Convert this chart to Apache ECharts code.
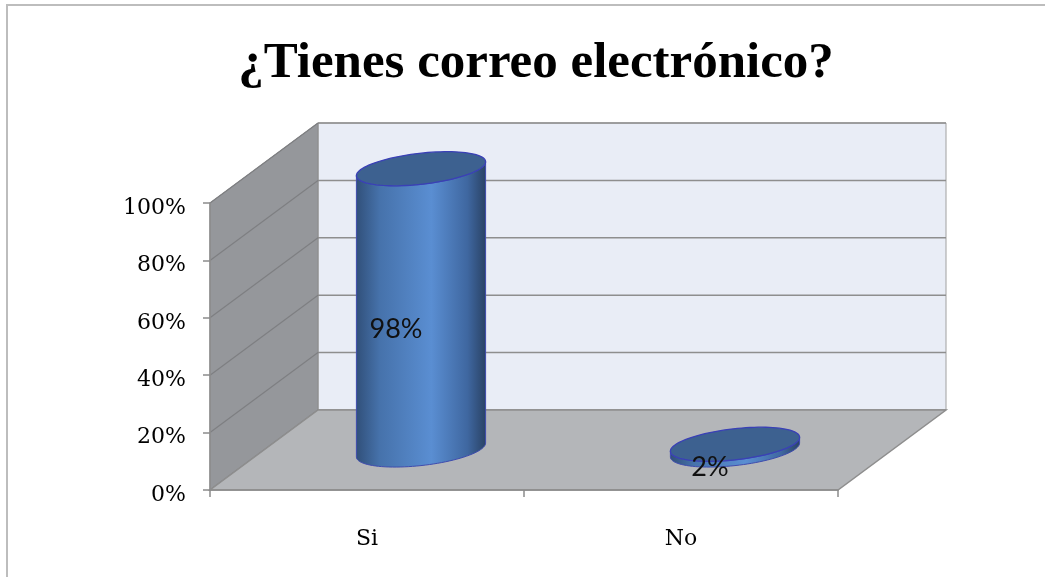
<!DOCTYPE html>
<html>
<head>
<meta charset="utf-8">
<title>¿Tienes correo electrónico?</title>
<script src="https://cdn.jsdelivr.net/npm/echarts@6/dist/echarts.min.js"></script>
<style>
  html, body { margin: 0; padding: 0; background: #ffffff; }
  #chart { width: 1045px; height: 577px; }
</style>
</head>
<body>
<div id="chart"></div>
<script>
// Survey answers and their shares (percent)
const categories = ['Si', 'No'];
const shares = [98, 2];
const yTicks = [0, 20, 40, 60, 80, 100];

// Pseudo-3D depth of the plot box, in pixels
const DEPTH_X = 108;
const DEPTH_Y = -80;

const chart = echarts.init(document.getElementById('chart'));

// Back wall, side wall and floor of the 3D box, with gridlines
function renderWalls(params, api) {
  const cs = params.coordSys;
  const x0 = cs.x, y0 = cs.y, w = cs.width, h = cs.height;
  const children = [];
  children.push({
    type: 'rect',
    shape: { x: x0 + DEPTH_X, y: y0 + DEPTH_Y, width: w, height: h },
    style: { fill: '#e9edf6', stroke: '#a0a0a0', lineWidth: 1 }
  });
  yTicks.forEach(function (v) {
    const y = api.coord([0, v])[1];
    children.push({
      type: 'line',
      shape: { x1: x0 + DEPTH_X, y1: y + DEPTH_Y, x2: x0 + DEPTH_X + w, y2: y + DEPTH_Y },
      style: { stroke: '#8e8e8e', lineWidth: 1.5 }
    });
  });
  children.push({
    type: 'polygon',
    shape: { points: [[x0, y0], [x0 + DEPTH_X, y0 + DEPTH_Y], [x0 + DEPTH_X, y0 + h + DEPTH_Y], [x0, y0 + h]] },
    style: { fill: '#95979b', stroke: '#8a8a8a', lineWidth: 1 }
  });
  yTicks.forEach(function (v) {
    const y = api.coord([0, v])[1];
    children.push({
      type: 'line',
      shape: { x1: x0, y1: y, x2: x0 + DEPTH_X, y2: y + DEPTH_Y },
      style: { stroke: '#7e7f82', lineWidth: 1.2 }
    });
  });
  children.push({
    type: 'polygon',
    shape: { points: [[x0, y0 + h], [x0 + w, y0 + h], [x0 + w + DEPTH_X, y0 + h + DEPTH_Y], [x0 + DEPTH_X, y0 + h + DEPTH_Y]] },
    style: { fill: '#b4b6b9', stroke: '#8e8e8e', lineWidth: 1.5 }
  });
  return { type: 'group', children: children };
}

// Tilted ellipse point
function ellipsePt(cx, cy, rx, ry, th, t) {
  return [
    cx + rx * Math.cos(t) * Math.cos(th) - ry * Math.sin(t) * Math.sin(th),
    cy + rx * Math.cos(t) * Math.sin(th) + ry * Math.sin(t) * Math.cos(th)
  ];
}

// One cylinder per category, standing in the middle of the box depth
function renderCylinder(params, api) {
  const idx = api.value(0);
  const val = api.value(1);
  const base = api.coord([idx, 0]);
  const top = api.coord([idx, val]);
  const band = api.size([1, 0])[0];
  const cx = base[0] + DEPTH_X / 2;
  const cyB = base[1] + DEPTH_Y / 2;
  const cyT = top[1] + DEPTH_Y / 2;
  const rx = band * 0.207;
  const ry = 15.5;
  const th = -6.5 * Math.PI / 180;
  const t0 = Math.atan2(-ry * Math.sin(th), rx * Math.cos(th));
  const N = 48;
  const body = [];
  for (let i = 0; i <= N; i++) body.push(ellipsePt(cx, cyB, rx, ry, th, t0 + Math.PI * i / N));
  for (let i = 0; i <= N; i++) body.push(ellipsePt(cx, cyT, rx, ry, th, t0 + Math.PI - Math.PI * i / N));
  const cap = [];
  for (let i = 0; i < 96; i++) cap.push(ellipsePt(cx, cyT, rx, ry, th, 2 * Math.PI * i / 96));
  const xl = ellipsePt(cx, cyB, rx, ry, th, t0 + Math.PI)[0];
  const xr = ellipsePt(cx, cyB, rx, ry, th, t0)[0];
  const grad = new echarts.graphic.LinearGradient(xl, 0, xr, 0, [
    { offset: 0, color: '#31507a' },
    { offset: 0.18, color: '#4672ab' },
    { offset: 0.58, color: '#5a8ed2' },
    { offset: 0.86, color: '#3f67a0' },
    { offset: 1, color: '#2a4366' }
  ], true);
  return {
    type: 'group',
    children: [
      { type: 'polygon', shape: { points: body }, style: { fill: grad, stroke: '#3f4cae', lineWidth: 1 } },
      { type: 'polygon', shape: { points: cap }, style: { fill: '#3d6190', stroke: '#3a40b6', lineWidth: 1.3 } },
      {
        type: 'text',
        x: base[0] + DEPTH_X / 4 + 2,
        y: (base[1] + top[1]) / 2 + DEPTH_Y / 4,
        style: {
          text: val + '%', fill: '#111111', font: '27px Lato',
          align: 'center', verticalAlign: 'middle'
        }
      }
    ]
  };
}

chart.setOption({
  backgroundColor: '#ffffff',
  animation: false,
  title: {
    text: '¿Tienes correo electrónico?',
    left: 531,
    textAlign: 'center',
    top: 33,
    textStyle: { fontFamily: 'Liberation Serif', fontWeight: 'bold', fontSize: 51, color: '#000000' }
  },
  graphic: [{
    type: 'rect',
    shape: { x: 7, y: 5, width: 1200, height: 700 },
    style: { fill: 'none', stroke: '#bdbdbd', lineWidth: 2 },
    silent: true
  }],
  grid: { left: 210, top: 203, width: 628, height: 287, containLabel: false },
  xAxis: {
    type: 'category',
    data: categories,
    z: 10,
    axisLine: { lineStyle: { color: '#8c8c8c', width: 1.5 } },
    axisTick: { show: true, length: 7, alignWithLabel: false, lineStyle: { color: '#8c8c8c', width: 1.5 } },
    axisLabel: { margin: 38, fontFamily: 'DejaVu Serif', fontSize: 22, color: '#000000' },
    splitLine: { show: false }
  },
  yAxis: {
    type: 'value',
    min: 0, max: 100, interval: 20,
    z: 10,
    axisLine: { show: true, lineStyle: { color: '#8c8c8c', width: 1.5 } },
    axisTick: { show: true, length: 7, lineStyle: { color: '#8c8c8c', width: 1.5 } },
    axisLabel: {
      formatter: '{value}%', margin: 24, verticalAlign: 'top', lineHeight: 10,
      fontFamily: 'DejaVu Serif', fontSize: 22, color: '#000000'
    },
    splitLine: { show: false }
  },
  series: [
    {
      type: 'custom',
      z: 1,
      silent: true,
      renderItem: renderWalls,
      data: [[0, 0]]
    },
    {
      type: 'custom',
      z: 3,
      renderItem: renderCylinder,
      data: categories.map(function (c, i) { return [i, shares[i]]; })
    }
  ]
});
</script>
</body>
</html>
